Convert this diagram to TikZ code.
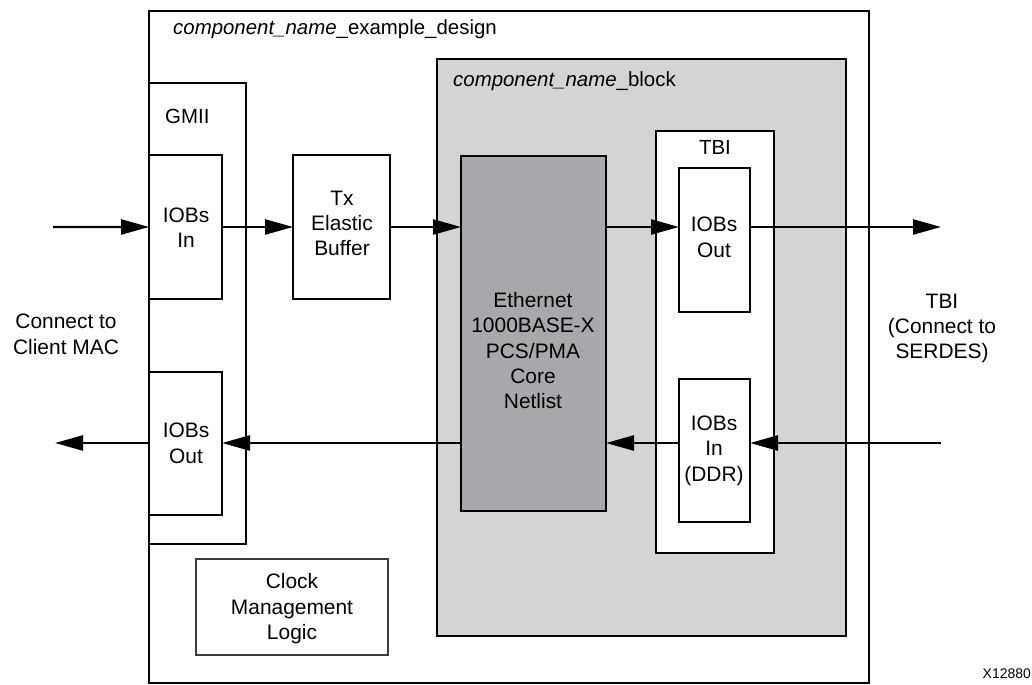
\documentclass[tikz,border=0pt]{standalone}
\usepackage{fontspec}
\setmainfont{Liberation Sans}
\usetikzlibrary{arrows.meta}
\definecolor{blkgray}{RGB}{211,212,214}
\definecolor{coregray}{RGB}{167,168,171}
\definecolor{clkline}{RGB}{60,60,60}
\begin{document}
\begin{tikzpicture}[x=1bp,y=-1bp,
  box/.style={draw,line width=2.4bp,inner sep=0pt,outer sep=0pt,anchor=north west,fill=white},
  lbl/.style={font=\fontsize{21}{25.3}\selectfont,align=center,inner sep=0pt},
  ttl/.style={font=\fontsize{20.5}{25}\selectfont,inner sep=0pt,anchor=base west},
  conn/.style={line width=2.4bp,-{Triangle[length=28bp,width=15bp]}}]
\useasboundingbox (0,0) rectangle (1032,685);
% boxes
\node[box,minimum width=720bp,minimum height=672bp] (outer) at (149,11) {};
\node[box,minimum width=97bp,minimum height=461bp] (gmii) at (149,83) {};
\node[box,minimum width=73bp,minimum height=144bp] (inL) at (149,155) {};
\node[box,minimum width=73bp,minimum height=143bp] (outL) at (149,372) {};
\node[box,minimum width=97bp,minimum height=144bp] (txb) at (293,155) {};
\node[box,fill=blkgray,minimum width=409bp,minimum height=577bp] (blk) at (437,59) {};
\node[box,fill=coregray,minimum width=145bp,minimum height=355bp] (core) at (461,156) {};
\node[box,minimum width=118bp,minimum height=422bp] (tbi) at (656,131) {};
\node[box,minimum width=71bp,minimum height=144bp] (outR) at (679,168) {};
\node[box,minimum width=71bp,minimum height=143bp] (inR) at (679,379) {};
\node[box,draw=clkline,line width=1.2bp,minimum width=192bp,minimum height=96bp] (clk) at (196,559) {};
% titles
\node[ttl] (tOuter) at (173,35) {{\itshape component\_name}\_example\_design};
\node[ttl] (tGmii) at (165,124) {GMII};
\node[ttl] (tBlk) at (453,87) {{\itshape component\_name}\_block};
\node[ttl,anchor=base] (tTbi) at (715,155) {TBI};
% labels
\node[lbl] (lInL) at (186,227.7) {IOBs\\In};
\node[lbl] (lOutL) at (186,443.2) {IOBs\\Out};
\node[lbl] (lTxb) at (342,223.4) {Tx\\Elastic\\Buffer};
\node[lbl] (lCore) at (533,350.7) {Ethernet\\1000BASE-X\\PCS/PMA\\Core\\Netlist};
\node[lbl] (lOutR) at (714,237.2) {IOBs\\Out};
\node[lbl] (lInR) at (714,450.8) {IOBs\\In\\(DDR)};
\node[lbl] (lClk) at (292,608.7) {Clock\\Management\\Logic};
\node[lbl] (lMac) at (66,334.2) {Connect to\\Client MAC};
\node[lbl] (lSer) at (942,328.3) {TBI\\(Connect to\\SERDES)};
\node[font=\fontsize{14}{16}\selectfont,inner sep=0pt,anchor=base east] (lNum) at (1031,678) {X12880};
% free ends
\coordinate (srcL) at (53,227);
\coordinate (dstR) at (941,227);
\coordinate (srcR) at (941,443);
\coordinate (dstL) at (55,443);
% transmit path
\draw[conn] (srcL) -- (inL.west);
\draw[conn] (inL.east) -- (txb.west);
\draw[conn] (txb.east) -- (txb.east -| core.west);
\draw[conn] (core.east |- srcL) -- (outR.west |- srcL);
\draw[conn] (outR.east |- srcL) -- (dstR);
% receive path
\draw[conn] (srcR) -- (inR.east |- srcR);
\draw[conn] (inR.west |- srcR) -- (core.east |- srcR);
\draw[conn] (core.west |- srcR) -- (outL.east |- srcR);
\draw[conn] (outL.west |- srcR) -- (dstL);
\end{tikzpicture}
\end{document}
